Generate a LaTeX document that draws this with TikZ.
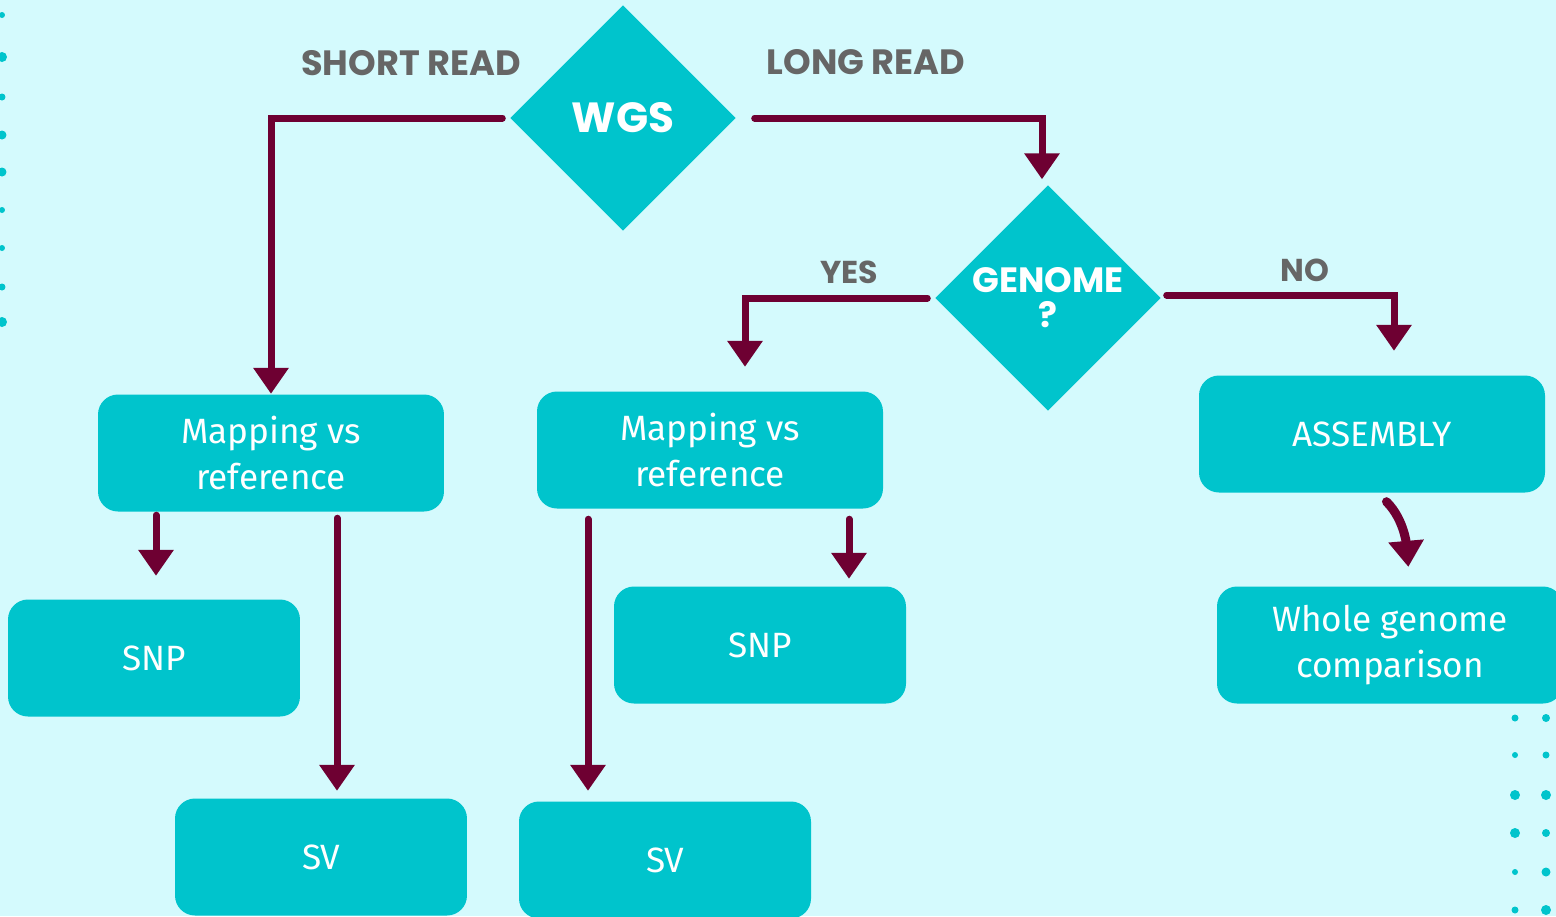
\documentclass[tikz,border=0pt]{standalone}
\usepackage{fontspec}
\newfontfamily\boxfont{Fira Sans}
\newfontfamily\tagfont{Poppins}
\usepackage{tikz}
\usetikzlibrary{arrows.meta, shapes.geometric}
\definecolor{bgCyan}{HTML}{D4FAFD}
\definecolor{boxTeal}{HTML}{00C4CC}
\definecolor{arrMaroon}{HTML}{6E0032}
\definecolor{tagGray}{HTML}{666666}

\begin{document}
\begin{tikzpicture}[x=0.1mm, y=-0.1mm,
  stepbox/.style={fill=boxTeal, rounded corners=2mm, minimum width=34.6mm,
                  minimum height=11.7mm, inner sep=0pt, align=center, text=white,
                  font=\boxfont\fontsize{10}{13}\selectfont},
  smallbox/.style={stepbox, minimum width=29.2mm},
  choice/.style={diamond, fill=boxTeal, minimum width=22.6mm, minimum height=22.6mm,
                 inner sep=0pt, align=center, text=white,
                 font=\tagfont\bfseries\fontsize{12}{12}\selectfont},
  tag/.style={text=tagGray, font=\tagfont\bfseries\fontsize{10}{12}\selectfont},
  arr/.style={draw=arrMaroon, line width=0.7mm, line cap=round,
              -{Triangle[width=3.4mm, length=2.6mm]}},
  dot/.style={fill=boxTeal}
]
  \clip (0,0) rectangle (1556,916);
  \fill[bgCyan] (0,0) rectangle (1556,916);

  \foreach \y/\r in {15/0.3, 57/0.5, 97/0.35, 135/0.45, 172/0.45, 210/0.3, 248/0.3, 287/0.35, 322/0.5}
    \fill[dot] (2,\y) circle (\r mm);
  \foreach \y/\ra/\rb in {718/0.35/0.4, 755/0.3/0.35, 795/0.5/0.5, 833/0.5/0.4, 872/0.3/0.45, 910/0.35/0.5}{
    \fill[dot] (1515,\y) circle (\ra mm);
    \fill[dot] (1546,\y) circle (\rb mm);
  }

  \node[choice] (wgs) at (623,118) {WGS};
  \node[choice, font=\tagfont\bfseries\fontsize{10}{10}\selectfont] (genome) at (1048,298) {GENOME\\?};
  \node[stepbox] (map1) at (271,453) {Mapping vs\\reference};
  \node[stepbox] (map2) at (710,450) {Mapping vs\\reference};
  \node[stepbox] (asm) at (1372,434) {ASSEMBLY};
  \node[smallbox] (snp1) at (154,658) {SNP};
  \node[smallbox] (sv1) at (321,857) {SV};
  \node[smallbox] (snp2) at (760,645) {SNP};
  \node[smallbox] (sv2) at (665,860) {SV};
  \node[stepbox] (wgc) at (1390,645) {Whole genome\\comparison};

  \node[tag] (short) at (411,63) {SHORT READ};
  \node[tag] (long) at (866,62) {LONG READ};
  \node[tag, font=\tagfont\bfseries\fontsize{9}{11}\selectfont] (yes) at (849,272) {YES};
  \node[tag, font=\tagfont\bfseries\fontsize{9}{11}\selectfont] (no) at (1305,270) {NO};

  \draw[arr, shorten <=0.7mm] (wgs.west) -| (map1.north);
  \draw[arr, shorten <=1.8mm, shorten >=0.5mm] (wgs.east) -| ([xshift=-0.6mm]genome.north);
  \draw[arr, shorten <=0.7mm, shorten >=2.4mm] (genome.west) -| ([xshift=3.5mm]map2.north);
  \draw[arr, shorten <=0.5mm, shorten >=2.4mm] ([yshift=0.3mm]genome.east) -| ([xshift=2.2mm]asm.north);
  \draw[arr, shorten <=0.3mm, shorten >=2.3mm] ([xshift=-11.5mm]map1.south) -- ([xshift=-11.5mm]map1.south |- snp1.north);
  \draw[arr, shorten <=0.6mm, shorten >=0.7mm] ([xshift=6.6mm]map1.south) -- ([xshift=6.6mm]map1.south |- sv1.north);
  \draw[arr, shorten <=1mm, shorten >=1mm] ([xshift=-12.2mm]map2.south) -- ([xshift=-12.2mm]map2.south |- sv2.north);
  \draw[arr, shorten <=1mm, shorten >=0.7mm] ([xshift=13.9mm]map2.south) -- ([xshift=13.9mm]map2.south |- snp2.north);
  \draw[arr, line width=0.9mm, shorten <=1.2mm, shorten >=1.9mm] ([xshift=0.6mm]asm.south) to[out=-45, in=95] ([xshift=2mm]wgc.north);
\end{tikzpicture}
\end{document}
